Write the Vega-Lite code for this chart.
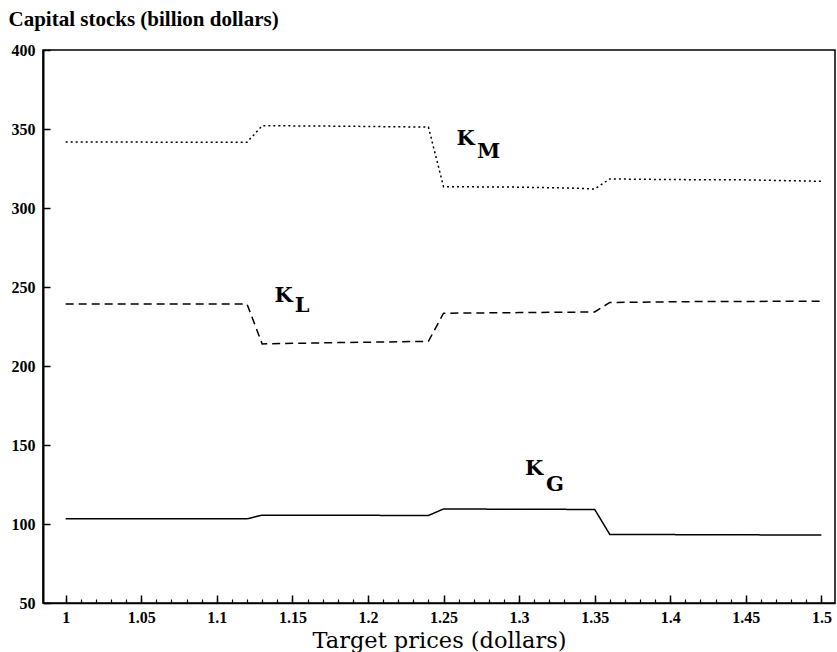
{
  "$schema": "https://vega.github.io/schema/vega-lite/v6.json",
  "width": 792,
  "height": 553,
  "autosize": {"type": "none"},
  "padding": {"left": 43, "top": 50, "right": 2, "bottom": 49},
  "background": "white",
  "config": {
    "view": {"stroke": "black", "strokeWidth": 1.5},
    "axis": {
      "domainColor": "black",
      "tickColor": "black",
      "labelColor": "black",
      "titleColor": "black",
      "grid": false
    }
  },
  "datasets": {
    "stocks": [
      {"series": "K_M", "price": 1.00, "value": 341.7},
      {"series": "K_M", "price": 1.05, "value": 341.7},
      {"series": "K_M", "price": 1.10, "value": 341.6},
      {"series": "K_M", "price": 1.12, "value": 341.6},
      {"series": "K_M", "price": 1.13, "value": 352.1},
      {"series": "K_M", "price": 1.18, "value": 351.8},
      {"series": "K_M", "price": 1.24, "value": 351.2},
      {"series": "K_M", "price": 1.25, "value": 313.5},
      {"series": "K_M", "price": 1.30, "value": 313.2},
      {"series": "K_M", "price": 1.34, "value": 312.5},
      {"series": "K_M", "price": 1.35, "value": 312.0},
      {"series": "K_M", "price": 1.36, "value": 318.4},
      {"series": "K_M", "price": 1.40, "value": 318.0},
      {"series": "K_M", "price": 1.45, "value": 317.8},
      {"series": "K_M", "price": 1.50, "value": 316.9},
      {"series": "K_L", "price": 1.00, "value": 239.2},
      {"series": "K_L", "price": 1.12, "value": 239.2},
      {"series": "K_L", "price": 1.13, "value": 214.0},
      {"series": "K_L", "price": 1.18, "value": 214.8},
      {"series": "K_L", "price": 1.24, "value": 215.6},
      {"series": "K_L", "price": 1.25, "value": 233.4},
      {"series": "K_L", "price": 1.30, "value": 233.8},
      {"series": "K_L", "price": 1.35, "value": 234.2},
      {"series": "K_L", "price": 1.36, "value": 240.2},
      {"series": "K_L", "price": 1.42, "value": 240.8},
      {"series": "K_L", "price": 1.50, "value": 241.0},
      {"series": "K_G", "price": 1.00, "value": 103.3},
      {"series": "K_G", "price": 1.12, "value": 103.3},
      {"series": "K_G", "price": 1.13, "value": 105.6},
      {"series": "K_G", "price": 1.24, "value": 105.4},
      {"series": "K_G", "price": 1.25, "value": 109.5},
      {"series": "K_G", "price": 1.35, "value": 109.2},
      {"series": "K_G", "price": 1.36, "value": 93.4},
      {"series": "K_G", "price": 1.50, "value": 93.0}
    ],
    "labels": [
      {"lx": 1.2646, "ly": 343.7, "txt": "K"},
      {"lx": 1.2798, "ly": 335.4, "txt": "M"},
      {"lx": 1.1442, "ly": 244.6, "txt": "K"},
      {"lx": 1.1564, "ly": 237.7, "txt": "L"},
      {"lx": 1.3099, "ly": 134.5, "txt": "K"},
      {"lx": 1.3238, "ly": 125.0, "txt": "G"}
    ]
  },
  "resolve": {"axis": {"x": "independent", "y": "independent"}},
  "layer": [
    {
      "data": {"name": "stocks"},
      "mark": {"type": "line", "color": "black", "strokeWidth": 1.5},
      "encoding": {
        "x": {
          "field": "price",
          "type": "quantitative",
          "scale": {"domain": [0.985, 1.509], "nice": false, "zero": false},
          "axis": {
            "orient": "bottom",
            "values": [1, 1.05, 1.1, 1.15, 1.2, 1.25, 1.3, 1.35, 1.4, 1.45, 1.5],
            "format": "~g",
            "tickSize": -8,
            "tickWidth": 1.5,
            "domainWidth": 1.5,
            "labelPadding": 14,
            "labelFlush": false,
            "labelFont": "Liberation Serif",
            "labelFontWeight": "bold",
            "labelFontSize": 16,
            "title": "Target prices (dollars)",
            "titleFont": "DejaVu Serif",
            "titleFontWeight": "normal",
            "titleFontSize": 22.5,
            "titleBaseline": "alphabetic",
            "titleY": 44
          }
        },
        "y": {
          "field": "value",
          "type": "quantitative",
          "scale": {"domain": [50, 400], "nice": false, "zero": false},
          "axis": {
            "orient": "left",
            "values": [50, 100, 150, 200, 250, 300, 350, 400],
            "tickSize": -7,
            "tickWidth": 1.5,
            "domainWidth": 2,
            "labelPadding": 15,
            "labelFlush": false,
            "labelFont": "Liberation Serif",
            "labelFontWeight": "bold",
            "labelFontSize": 16,
            "title": "Capital stocks (billion dollars)",
            "titleFont": "Liberation Serif",
            "titleFontWeight": "bold",
            "titleFontSize": 21,
            "titleAngle": 0,
            "titleAlign": "left",
            "titleBaseline": "alphabetic",
            "titleX": -35,
            "titleY": -25
          }
        },
        "detail": {"field": "series"},
        "strokeDash": {
          "field": "series",
          "type": "nominal",
          "scale": {"domain": ["K_M", "K_L", "K_G"], "range": [[2, 3], [8, 5], [1, 0]]},
          "legend": null
        }
      }
    },
    {
      "data": {"name": "labels"},
      "mark": {"type": "text", "font": "DejaVu Serif", "fontWeight": "bold", "fontSize": 21, "align": "center", "baseline": "middle", "color": "black"},
      "encoding": {
        "x": {
          "field": "lx",
          "type": "quantitative",
          "axis": {
            "orient": "bottom",
            "values": [1, 1.01, 1.02, 1.03, 1.04, 1.05, 1.06, 1.07, 1.08, 1.09, 1.1, 1.11, 1.12, 1.13, 1.14, 1.15, 1.16, 1.17, 1.18, 1.19, 1.2, 1.21, 1.22, 1.23, 1.24, 1.25, 1.26, 1.27, 1.28, 1.29, 1.3, 1.31, 1.32, 1.33, 1.34, 1.35, 1.36, 1.37, 1.38, 1.39, 1.4, 1.41, 1.42, 1.43, 1.44, 1.45, 1.46, 1.47, 1.48, 1.49, 1.5],
            "labels": false,
            "domain": false,
            "tickSize": -4,
            "tickWidth": 1.2,
            "title": null
          }
        },
        "y": {"field": "ly", "type": "quantitative", "axis": null},
        "text": {"field": "txt"}
      }
    }
  ]
}
